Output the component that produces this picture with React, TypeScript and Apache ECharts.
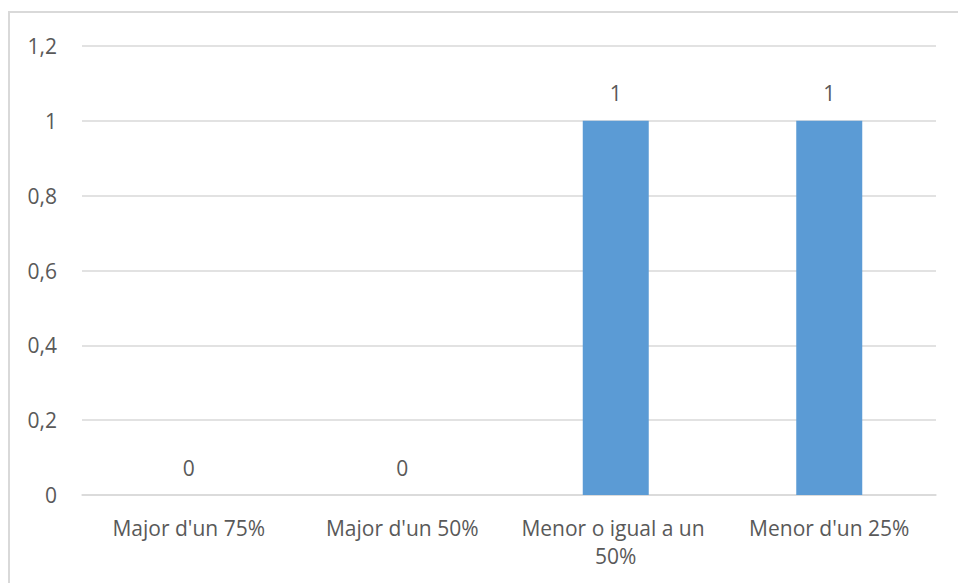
import React, { useEffect, useRef } from "react";
import * as echarts from "echarts";

const categories = ["Major d'un 75%", "Major d'un 50%", "Menor o igual a un 50%", "Menor d'un 25%"];
const values = [0, 0, 1, 1];
const yMin = 0;
const yMax = 1.2;
const yStep = 0.2;

const FONT = "'Open Sans', 'Noto Sans', sans-serif";
const TEXT = "#595959";
const SIZE = 21;

export default function App() {
  const ref = useRef<HTMLDivElement>(null);

  useEffect(() => {
    if (!ref.current) return;
    const chart = echarts.init(ref.current, null, { renderer: "svg" });
    chart.setOption({
      animation: false,
      backgroundColor: "#ffffff",
      graphic: [
        {
          type: "rect",
          shape: { x: 9, y: 12, width: 980, height: 600 },
          style: { fill: "none", stroke: "#d9d9d9", lineWidth: 2 },
          silent: true,
        },
      ],
      grid: { left: 82, right: 22, top: 46, bottom: 88, containLabel: false },
      xAxis: {
        type: "category",
        data: categories,
        axisLine: { show: true, lineStyle: { color: "#d9d9d9", width: 1.5 } },
        axisTick: { show: false },
        axisLabel: {
          color: TEXT,
          fontFamily: FONT,
          fontSize: SIZE,
          margin: 19,
          lineHeight: 28,
          width: 205,
          overflow: "break",
          interval: 0,
        },
      },
      yAxis: {
        type: "value",
        min: yMin,
        max: yMax,
        interval: yStep,
        axisLine: { show: false },
        axisTick: { show: false },
        splitLine: { lineStyle: { color: "#d9d9d9", width: 1.5 } },
        axisLabel: {
          color: TEXT,
          fontFamily: FONT,
          fontSize: SIZE,
          margin: 25,
          formatter: (v: number) => String(Math.round(v * 10) / 10).replace(".", ","),
        },
      },
      series: [
        {
          type: "bar",
          data: values,
          barWidth: 66,
          itemStyle: { color: "#5b9bd5" },
          label: {
            show: true,
            position: "top",
            distance: 17,
            color: TEXT,
            fontFamily: FONT,
            fontSize: SIZE,
            formatter: (p: any) => String(p.value).replace(".", ","),
          },
        },
      ],
    });
    return () => chart.dispose();
  }, []);

  return (
    <div
      ref={ref}
      style={{ position: "fixed", left: 0, top: 0, width: 958, height: 583, background: "#fff" }}
    />
  );
}
